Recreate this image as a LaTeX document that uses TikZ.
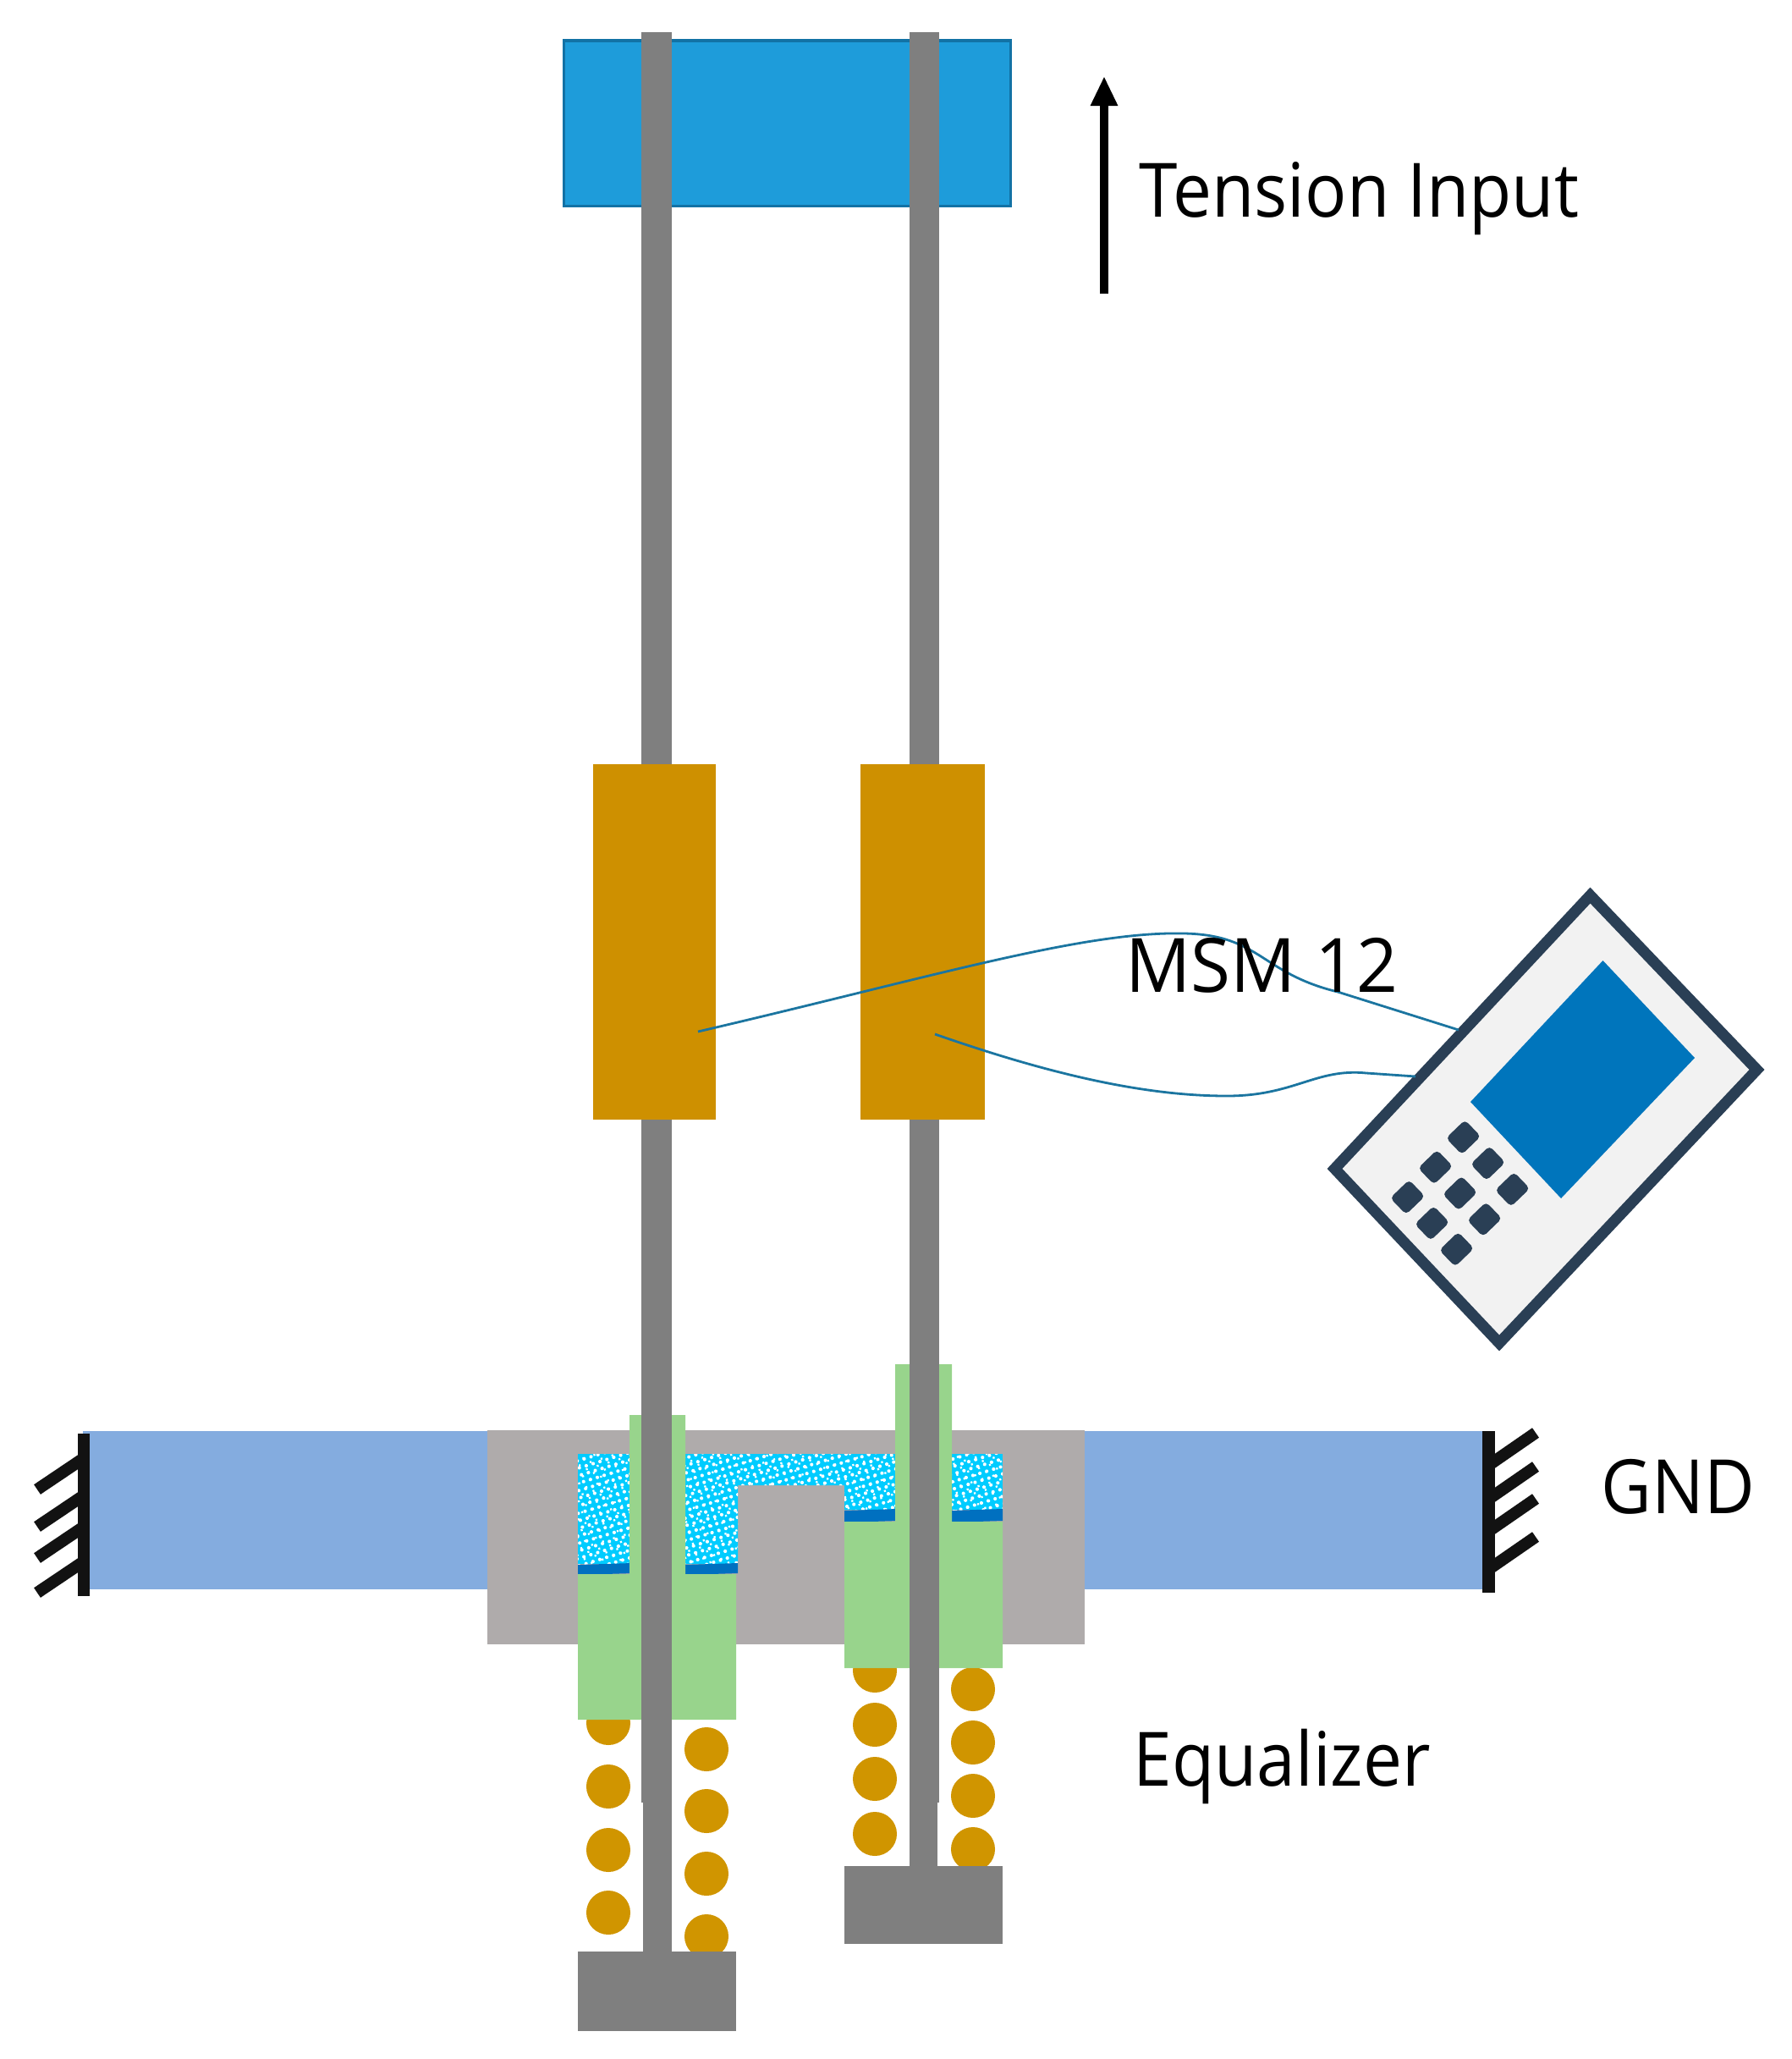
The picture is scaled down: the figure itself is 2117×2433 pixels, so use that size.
\documentclass[tikz,border=0pt]{standalone}
\usepackage{fontspec}
\setmainfont[FakeStretch=0.925]{Open Sans}
\newfontfamily\msmfont[FakeStretch=0.965]{Open Sans}
\usetikzlibrary{arrows.meta,patterns.meta}
\definecolor{rodgray}{HTML}{7F7F7F}
\definecolor{platecol}{HTML}{AFABAB}
\definecolor{barcol}{HTML}{84ACDF}
\definecolor{greencol}{HTML}{98D48C}
\definecolor{coilcol}{HTML}{CE9000}
\definecolor{ballcol}{HTML}{D09500}
\definecolor{cyancol}{HTML}{00CCFF}
\definecolor{stripcol}{HTML}{0070C0}
\definecolor{topcol}{HTML}{1E9CDA}
\definecolor{topedge}{HTML}{1272A5}
\definecolor{wirecol}{HTML}{1B75A0}
\definecolor{devedge}{HTML}{2A3F55}
\definecolor{devfill}{HTML}{F2F2F2}
\definecolor{devscreen}{HTML}{0075BC}

\begin{document}
\begin{tikzpicture}[
      x=0.01cm, y=-0.01cm,
      rod/.style = {fill=rodgray},
      coil/.style = {fill=coilcol},
      ball/.style = {fill=ballcol},
      seal/.style = {fill=greencol},
      oil/.style = {fill=cyancol},
      dotsa/.style = {pattern={Dots[radius=0.021cm,distance=0.085cm,angle=17]}, pattern color=white},
      dotsb/.style = {pattern={Dots[radius=0.016cm,distance=0.095cm,angle=62]}, pattern color=white},
      strip/.style = {fill=stripcol},
      wall/.style = {line width=0.14cm, color=black!93},
      wire/.style = {line width=0.028cm, color=wirecol},
      keycap/.style = {rectangle, fill=devedge, rounded corners=0.05cm, rotate=44,
                       minimum width=0.31cm, minimum height=0.27cm, inner sep=0pt},
      label/.style = {anchor=base west, inner sep=0pt, font=\fontsize{25.2pt}{30pt}\selectfont}
    ]
    \useasboundingbox (0,0) rectangle (2117,2433);

    % Top plate
    \draw[fill=topcol, draw=topedge, line width=0.03cm] (666.5,48) rectangle (1194,243);

    % Base
    \fill[fill=barcol] (98,1691) rectangle (1757,1878);
    \fill[fill=platecol] (576,1690) rectangle (1282,1943);

    % Oil channel
    \foreach \fillstyle in {oil, dotsa, dotsb} {
      \path[\fillstyle] (683,1718) rectangle (747,1848);
      \path[\fillstyle] (809,1718) -- (1061,1718) -- (1061,1784) -- (998,1784) -- (998,1755)
                        -- (872,1755) -- (872,1848) -- (809,1848) -- cycle;
      \path[\fillstyle] (1122,1718) rectangle (1185,1784);
    }
    \foreach \xa/\xb/\ya/\yb in {683/747/1848/1860, 809/872/1848/1860,
                                 998/1061/1784/1798, 1122/1185/1784/1798} {
      \fill[strip] (\xa,\ya+1) -- (\xb,\ya-1) -- (\xb,\yb-1) -- (\xa,\yb+1) -- cycle;
    }

    % Balls
    \foreach \bx/\by in {719/2036, 719/2111, 719/2186, 719/2260,
                         835/2067, 835/2140, 835/2214, 835/2288,
                         1034/1974, 1034/2038, 1034/2102, 1034/2167,
                         1150/1996, 1150/2059, 1150/2122, 1150/2185} {
      \fill[ball] (\bx,\by) circle (0.26cm);
    }

    % Seals
    \fill[seal] (683,2032) -- (683,1860) -- (744,1860) -- (744,1672) -- (760,1672) -- (760,2032) -- cycle;
    \fill[seal] (794,2032) -- (794,1672) -- (810,1672) -- (810,1860) -- (870,1860) -- (870,2032) -- cycle;
    \fill[seal] (998,1971) -- (998,1798) -- (1058,1798) -- (1058,1612) -- (1075,1612) -- (1075,1971) -- cycle;
    \fill[seal] (1110,1971) -- (1110,1612) -- (1125,1612) -- (1125,1798) -- (1185,1798) -- (1185,1971) -- cycle;

    % Rods
    \fill[rod] (758,38) rectangle (794,2130);
    \fill[rod] (760,2130) rectangle (794,2320);
    \fill[rod] (1075,38) rectangle (1110,2130);
    \fill[rod] (1075,2130) rectangle (1108,2220);
    \fill[rod] (683,2306) rectangle (870,2400);
    \fill[rod] (998,2205) rectangle (1185,2297);

    % Coils
    \fill[coil] (701,903) rectangle (846,1323);
    \fill[coil] (1017,903) rectangle (1164,1323);

    % Walls
    \draw[wall] (99,1694) -- (99,1886);
    \foreach \hy in {1727, 1771, 1808, 1849} {
      \draw[wall] (99,\hy-4) -- (44,\hy+33);
    }
    \draw[wall, line width=0.15cm] (1759.5,1691) -- (1759.5,1882);
    \foreach \hy in {1727, 1767, 1805, 1850} {
      \draw[wall] (1760,\hy+4) -- (1815,\hy-34);
    }

    % Device
    \draw[fill=devfill, draw=devedge, line width=0.13cm, miter limit=10]
      (1879.5,1058) -- (2076.5,1264) -- (1772,1587) -- (1577.5,1381) -- cycle;
    \fill[devscreen] (1894.5,1135) -- (2003,1250) -- (1845,1416) -- (1738,1302) -- cycle;
    \foreach \i in {0,1,2} {
      \foreach \j in {0,1,2} {
        \node[keycap] (key\i\j) at (1729.6-33*\i+29*\j, 1343.8+35.4*\i+30.8*\j) {};
      }
    }

    % Wires
    \coordinate (wireAa) at (825,1219);
    \coordinate (wireAb) at (1724,1217);
    \coordinate (wireBa) at (1105,1222);
    \coordinate (wireBb) at (1673,1272);
    \draw[wire] (wireAa) .. controls (1100,1155) and (1280,1100) .. (1400,1103)
                .. controls (1490,1105) and (1490,1150) .. (1581,1172)
                -- (wireAb);
    \draw[wire] (wireBa) .. controls (1220,1262) and (1340,1295) .. (1450,1295)
                .. controls (1530,1295) and (1555,1262) .. (1615,1268)
                -- (wireBb);

    % Arrow
    \coordinate (pullend) at (1305,347);
    \coordinate (pulltip) at (1305,90);
    \draw[line width=0.1cm, -{Triangle[length=0.35cm,width=0.3cm]}] (pullend) -- (pulltip);

    % Labels
    \node[label] (tension) at (1346,256) {Tension Input};
    \node[label, font=\fontsize{25.2pt}{30pt}\msmfont] (msm) at (1330,1172) {MSM 12};
    \node[label] (gnd) at (1892,1788) {GND};
    \node[label] (equalizer) at (1339,2110) {Equalizer};
  \end{tikzpicture}
\end{document}
